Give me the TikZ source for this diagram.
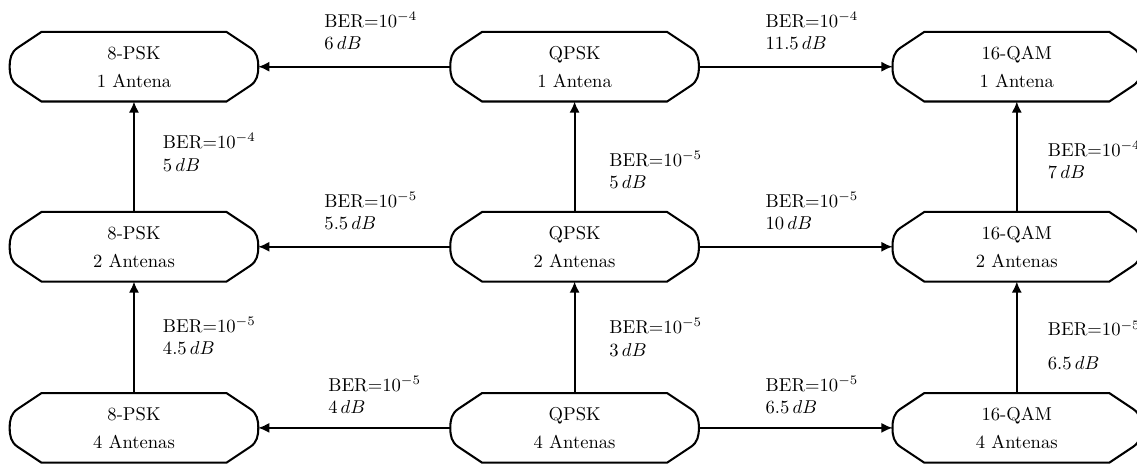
\documentclass[tikz,border=0pt]{standalone}
\usepackage{amsmath}
\usepackage{tikz}
\usetikzlibrary{arrows.meta}

\begin{document}
\begin{tikzpicture}[
		modo/.style={rectangle, minimum width=4.68cm, minimum height=1.3cm,
			inner sep=0pt, align=center,
			append after command={\pgfextra{\let\nodo\tikzlastnode
				\draw[line width=1.1pt]
				([xshift=0.6cm]\nodo.north west) -- ([xshift=-0.6cm]\nodo.north east)
				-- ([xshift=-0.15cm, yshift=-0.3cm]\nodo.north east)
				to[out=-34, in=90] (\nodo.east)
				to[out=-90, in=34] ([xshift=-0.15cm, yshift=0.3cm]\nodo.south east)
				-- ([xshift=-0.6cm]\nodo.south east) -- ([xshift=0.6cm]\nodo.south west)
				-- ([xshift=0.15cm, yshift=0.3cm]\nodo.south west)
				to[out=146, in=-90] (\nodo.west)
				to[out=90, in=-146] ([xshift=0.15cm, yshift=-0.3cm]\nodo.north west)
				-- cycle;}}},
		etq/.style={align=left, inner sep=0pt},
		flecha/.style={line width=1pt, -{Latex[length=6pt, width=5.5pt]}}]
		\useasboundingbox (0,0) rectangle (21.47,8.76);

		% esquemas: columnas 8-PSK, QPSK, 16-QAM
		\node[modo] (psk1) at (2.53,7.50) {8-PSK\\[3pt]1 Antena};
		\node[modo] (psk2) at (2.53,4.10) {8-PSK\\[3pt]2 Antenas};
		\node[modo] (psk4) at (2.53,0.68) {8-PSK\\[3pt]4 Antenas};
		\node[modo] (qpsk1) at (10.85,7.50) {QPSK\\[3pt]1 Antena};
		\node[modo] (qpsk2) at (10.85,4.10) {QPSK\\[3pt]2 Antenas};
		\node[modo] (qpsk4) at (10.85,0.68) {QPSK\\[3pt]4 Antenas};
		\node[modo] (qam1) at (19.2,7.50) {16-QAM\\[3pt]1 Antena};
		\node[modo] (qam2) at (19.2,4.10) {16-QAM\\[3pt]2 Antenas};
		\node[modo] (qam4) at (19.2,0.68) {16-QAM\\[3pt]4 Antenas};

		% transiciones horizontales
		\draw[flecha] (qpsk1.west) -- node[etq, pos=0.66, anchor=south west, yshift=0.30cm]
		{BER=$10^{-4}$\\$6\,dB$} (psk1.east);
		\draw[flecha] (qpsk1.east) -- node[etq, pos=0.34, anchor=south west, yshift=0.30cm]
		{BER=$10^{-4}$\\$11.5\,dB$} (qam1.west);
		\draw[flecha] (qpsk2.west) -- node[etq, pos=0.66, anchor=south west, yshift=0.30cm]
		{BER=$10^{-5}$\\$5.5\,dB$} (psk2.east);
		\draw[flecha] (qpsk2.east) -- node[etq, pos=0.34, anchor=south west, yshift=0.30cm]
		{BER=$10^{-5}$\\$10\,dB$} (qam2.west);
		\draw[flecha] (qpsk4.west) -- node[etq, pos=0.64, anchor=south west, yshift=0.25cm]
		{BER=$10^{-5}$\\$4\,dB$} (psk4.east);
		\draw[flecha] (qpsk4.east) -- node[etq, pos=0.34, anchor=south west, yshift=0.25cm]
		{BER=$10^{-5}$\\$6.5\,dB$} (qam4.west);

		% transiciones verticales
		\draw[flecha] (psk2.north) -- node[etq, pos=0.54, anchor=west, xshift=0.53cm]
		{BER=$10^{-4}$\\$5\,dB$} (psk1.south);
		\draw[flecha] (qpsk2.north) -- node[etq, pos=0.38, anchor=west, xshift=0.64cm]
		{BER=$10^{-5}$\\$5\,dB$} (qpsk1.south);
		\draw[flecha] (qam2.north) -- node[etq, pos=0.47, anchor=west, xshift=0.57cm]
		{BER=$10^{-4}$\\$7\,dB$} (qam1.south);
		\draw[flecha] (psk4.north) -- node[etq, pos=0.51, anchor=west, xshift=0.53cm]
		{BER=$10^{-5}$\\$4.5\,dB$} (psk2.south);
		\draw[flecha] (qpsk4.north) -- node[etq, pos=0.5, anchor=west, xshift=0.64cm]
		{BER=$10^{-5}$\\$3\,dB$} (qpsk2.south);
		\draw[flecha] (qam4.north) -- node[etq, pos=0.43, anchor=west, xshift=0.57cm]
		{BER=$10^{-5}$\\[6pt]$6.5\,dB$} (qam2.south);
	\end{tikzpicture}
\end{document}
